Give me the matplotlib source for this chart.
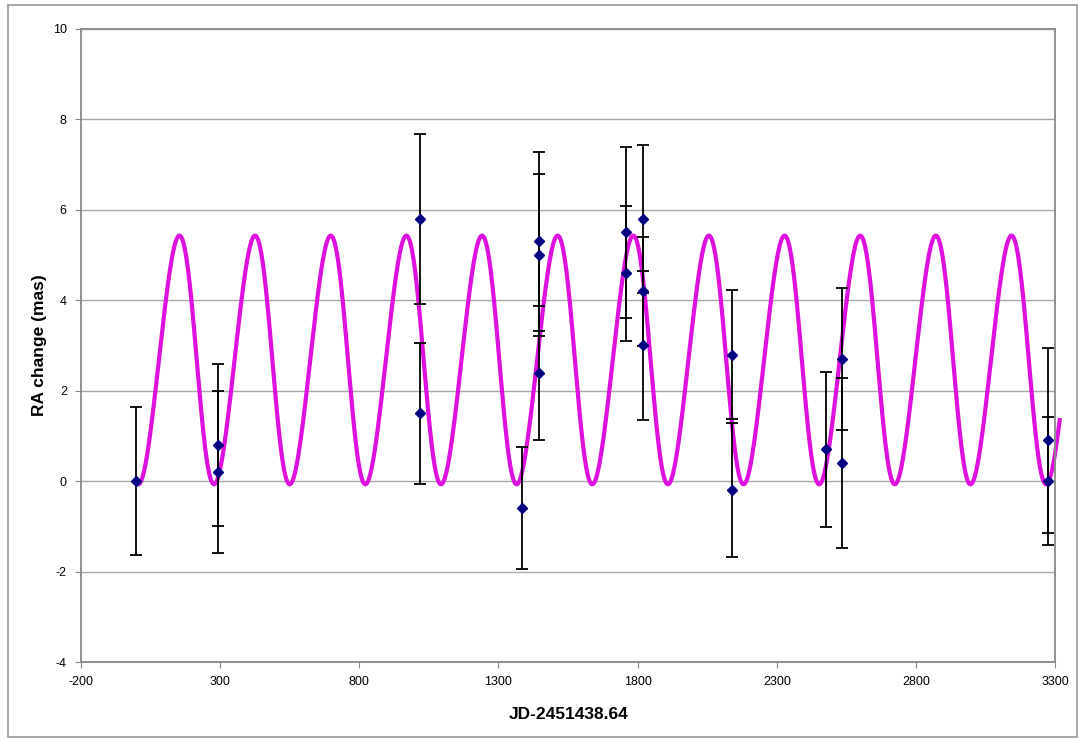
import numpy as np
import matplotlib.pyplot as plt
from matplotlib.patches import Rectangle

plt.rcParams['font.family'] = ['Liberation Sans', 'DejaVu Sans']
plt.rcParams['axes.unicode_minus'] = False

# measured RA offsets with their error bars
jd = [0, 294, 294, 1020, 1020, 1384, 1446, 1446, 1446, 1757, 1757,
      1819, 1819, 1819, 2137, 2137, 2476, 2533, 2533, 3272, 3272]
ra = [0.0, 0.8, 0.2, 5.8, 1.5, -0.6, 5.3, 5.0, 2.4, 5.5, 4.6,
      5.8, 4.2, 3.0, 2.8, -0.2, 0.7, 2.7, 0.4, 0.9, 0.0]
ra_err = [1.63, 1.8, 1.8, 1.88, 1.56, 1.35, 1.97, 1.8, 1.48, 1.89, 1.49,
          1.63, 1.21, 1.64, 1.42, 1.48, 1.71, 1.57, 1.88, 2.05, 1.41]

# orbit model parameters (slightly eccentric)
model_offset = 2.68
model_amp = 2.75
model_period = 271.6
model_t0 = 216.6
model_ecc = 0.135
model_start, model_end = 0, 3315

x_ticks = [-200, 300, 800, 1300, 1800, 2300, 2800, 3300]
y_ticks = [-4, -2, 0, 2, 4, 6, 8, 10]

fig = plt.figure(figsize=(10.82, 7.41), dpi=100)
ax = fig.add_axes([0.0746, 0.1066, 0.9009, 0.8543])

# outer chart frame
fig.patches.append(Rectangle((8 / 1082, 1 - 737 / 741), 1069 / 1082, 732 / 741,
                             transform=fig.transFigure, fill=False,
                             edgecolor='#9a9a9a', linewidth=1.2))

t = np.linspace(model_start, model_end, 4000)
M = 2 * np.pi * (t - model_t0) / model_period
phase = M + model_ecc * np.sin(M)
curve = model_offset - model_amp * np.cos(phase - np.pi / 2)
ax.plot(t, curve, color='#dd11dd', linewidth=3, clip_on=False, zorder=2)

ax.errorbar(jd, ra, yerr=ra_err, fmt='D', color='#000080', markersize=5.5,
            ecolor='black', elinewidth=1.3, capsize=4, capthick=1.3, zorder=3)

ax.set_xlim(-200, 3300)
ax.set_ylim(-4, 10)
ax.set_xticks(x_ticks)
ax.set_yticks(y_ticks)
ax.grid(axis='y', color='#a8a8a8', linewidth=1)
ax.set_axisbelow(True)
for s in ax.spines.values():
    s.set_color('#888888')
    s.set_linewidth(1.3)
ax.tick_params(direction='out', length=4, color='#888888', labelsize=9, pad=6)

ax.set_xlabel('JD-2451438.64', fontsize=12.5, fontweight='bold', labelpad=14)
ax.set_ylabel('RA change (mas)', fontsize=12.5, fontweight='bold', labelpad=4)

fig.savefig('out.png', dpi=100)
